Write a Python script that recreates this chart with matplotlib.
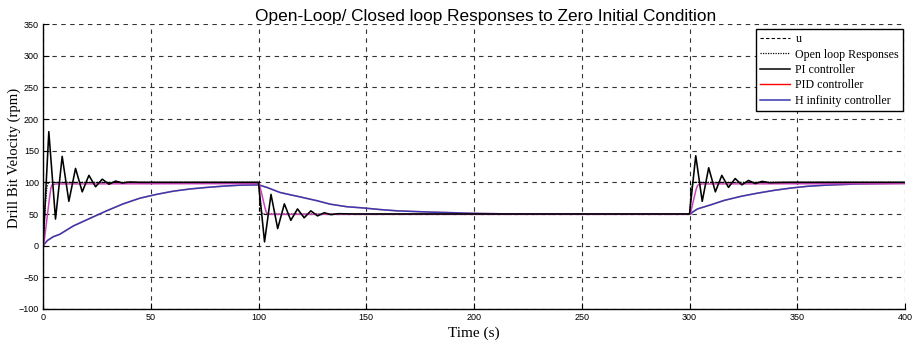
import matplotlib
matplotlib.use("Agg")
import matplotlib.pyplot as plt
from matplotlib.lines import Line2D

# ---- data ----
u_t = [0, 0, 100, 100, 300, 300, 400]
u_v = [0, 100, 100, 50, 50, 100, 100]

ol_t = [0, 0.3, 1.0, 1.8, 2.5, 99.6, 100.0, 100.6, 101.2, 101.8, 299.6, 300.0, 300.6, 301.2, 301.8, 400]
ol_v = [0, 0, 60, 92, 100, 100, 100, 72, 55, 50, 50, 50, 78, 95, 100, 100]

pi_t = [0, 2.7, 5.8, 8.9, 12.0, 15.1, 18.2, 21.3, 24.4, 27.5, 30.6, 33.7, 36.8, 40, 45, 100,
        102.8, 105.8, 108.9, 112.0, 115.0, 118.1, 121.2, 124.3, 127.4, 130.5, 133.6, 137, 145, 300,
        302.9, 305.9, 308.9, 312.0, 315.0, 318.1, 321.2, 324.3, 327.4, 330.5, 333.6, 337, 345, 400]
pi_v = [0, 180, 42, 141, 70, 122, 85, 111, 93, 105, 97, 102, 99, 100.5, 100, 100,
        6, 81, 27, 66, 40, 58, 44, 55, 47, 52, 49, 50.5, 50, 50,
        142, 70, 123, 85, 111, 92, 106, 96, 103, 98, 101.5, 99.5, 100, 100]

pid_t = [0, 0.3, 1.2, 2.1, 3.0, 3.6, 4.2, 6, 100, 100.3, 101.2, 102.1, 103.0, 103.6, 104.2, 106,
         300, 300.3, 301.2, 302.1, 303.0, 303.6, 304.2, 306, 400]
pid_v = [0, 0, 25, 50, 75, 90, 96, 97.5, 98, 98, 86, 73, 60, 53, 50, 49.5,
         49.5, 49.5, 62, 75, 88, 94, 96.5, 97.5, 98]

hinf_t = [0, 2, 4.7, 7.8, 14, 21.7, 29.5, 37.2, 45, 52.7, 60.4, 68.2, 76, 83.7, 91.4, 99.8,
          101, 103.9, 106.9, 110, 113.9, 119.3, 127.1, 133.3, 141, 148.8, 156.5, 164.3, 172, 179.8,
          187.5, 195.3, 203, 215, 230, 300,
          300.6, 301.4, 303.7, 310, 316.1, 323.9, 331.7, 339.4, 347.1, 354.9, 362.6, 378.1, 399.8]
hinf_v = [0, 8, 14, 18, 31, 43, 55, 66, 75, 81, 86, 89.5, 92, 94, 95.5, 96,
          95, 92, 88, 84, 81, 77, 71, 65.5, 61.5, 59.5, 57, 55, 54, 53,
          52.3, 51.4, 50.8, 50.2, 50, 50,
          50.2, 53, 58, 64.6, 71.5, 77.9, 83, 87.4, 91, 93.8, 95.4, 97.5, 98.5]

x_ticks = [0, 50, 100, 150, 200, 250, 300, 350, 400]
y_ticks = [-100, -50, 0, 50, 100, 150, 200, 250, 300, 350]

labels = ["u", "Open loop Responses", "PI controller", "PID controller", "H infinity controller"]
title = "Open-Loop/ Closed loop Responses to Zero Initial Condition"

# ---- figure ----
sans = ["Liberation Sans Narrow", "Liberation Sans", "DejaVu Sans"]
serif = ["Liberation Serif", "DejaVu Serif"]

fig = plt.figure(figsize=(9.18, 3.46), dpi=100)
ax = fig.add_axes([43 / 918, 1 - 309 / 346, (905 - 43) / 918, (309 - 24) / 346])

ax.plot(u_t, u_v, color="black", lw=0.8, ls=(0, (3, 2)))
ax.plot(ol_t, ol_v, color="black", lw=0.9, ls=(0, (1, 1)))
ax.plot(hinf_t, hinf_v, color="#e04040", lw=1.2, alpha=0.5)
ax.plot(hinf_t, hinf_v, color="#3838b0", lw=1.1)
ax.plot(pid_t, pid_v, color="#cc44bb", lw=1.1)
ax.plot(pi_t, pi_v, color="black", lw=1.15)

ax.set_xlim(0, 400)
ax.set_ylim(-100, 350)
ax.set_xticks(x_ticks)
ax.set_yticks(y_ticks)
ax.grid(True, color="#333333", ls=(0, (4, 4)), lw=0.8)
ax.tick_params(direction="in", length=4, width=0.8, labelsize=6.5, pad=3)
for lab in ax.get_xticklabels() + ax.get_yticklabels():
    lab.set_family(sans)
ax.spines["top"].set_visible(False)
ax.spines["right"].set_visible(False)
ax.spines["left"].set_linewidth(1.0)
ax.spines["bottom"].set_linewidth(1.0)

ax.set_title(title, family=sans, fontsize=12.4, pad=2, x=0.514)
ax.set_xlabel("Time (s)", family=serif, fontsize=11, labelpad=3)
ax.set_ylabel("Drill Bit Velocity (rpm)", family=serif, fontsize=10.6)
ax.yaxis.set_label_coords(-(43 - 21) / 862, 0.53)

handles = [
    Line2D([], [], color="black", lw=0.8, ls=(0, (3, 2))),
    Line2D([], [], color="black", lw=0.9, ls=(0, (1, 1))),
    Line2D([], [], color="black", lw=1.1),
    Line2D([], [], color="red", lw=1.0),
    Line2D([], [], color="#3838b0", lw=1.1),
]
leg = ax.legend(handles, labels, loc="upper right", bbox_to_anchor=(0.998, 0.982),
                borderaxespad=0, prop={"family": serif, "size": 8.6}, fancybox=False,
                framealpha=1, edgecolor="black", handlelength=2.5, labelspacing=0.28,
                borderpad=0.35, handletextpad=0.45)
leg.get_frame().set_linewidth(1.0)

fig.savefig("out.png", dpi=100)
